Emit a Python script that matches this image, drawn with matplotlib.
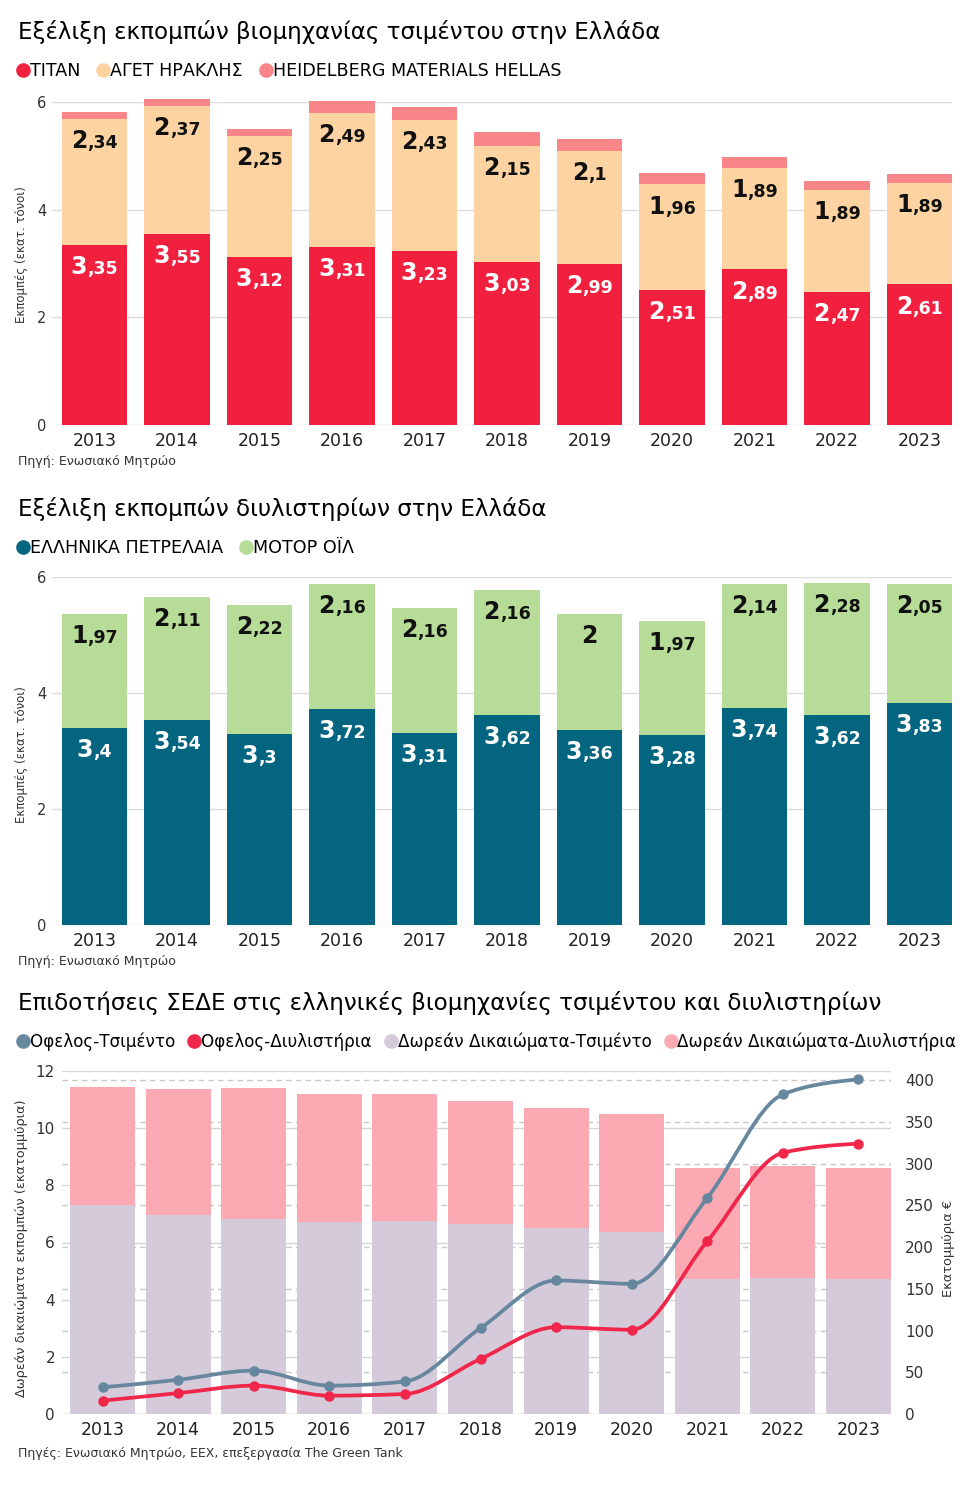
import numpy as np
import matplotlib
matplotlib.use("Agg")
import matplotlib.pyplot as plt
from matplotlib.path import Path
from matplotlib.patches import PathPatch
from matplotlib.lines import Line2D

plt.rcParams["font.family"] = ["DejaVu Sans"]

# --- data ---
years = [str(y) for y in range(2013, 2024)]

titan = [3.35, 3.55, 3.12, 3.31, 3.23, 3.03, 2.99, 2.51, 2.89, 2.47, 2.61]
aget = [2.34, 2.37, 2.25, 2.49, 2.43, 2.15, 2.1, 1.96, 1.89, 1.89, 1.89]
heidelberg = [0.12, 0.14, 0.13, 0.22, 0.24, 0.27, 0.22, 0.22, 0.19, 0.17, 0.17]

elpe = [3.4, 3.54, 3.3, 3.72, 3.31, 3.62, 3.36, 3.28, 3.74, 3.62, 3.83]
motor_oil = [1.97, 2.11, 2.22, 2.16, 2.16, 2.16, 2, 1.97, 2.14, 2.28, 2.05]

free_cement = [7.31, 6.96, 6.81, 6.70, 6.76, 6.64, 6.51, 6.37, 4.74, 4.77, 4.74]
free_refinery = [4.14, 4.42, 4.61, 4.49, 4.43, 4.32, 4.21, 4.12, 3.87, 3.92, 3.87]
benefit_cement = [32, 41, 52, 34, 39, 103, 160, 156, 259, 383, 401]
benefit_refinery = [16, 25, 34, 22, 24, 66, 104, 101, 207, 313, 324]

# colours
c_titan, c_aget, c_heid = "#f2203f", "#fdd4a1", "#f88587"
c_elpe, c_motor = "#03657f", "#b7dc97"
c_lblue, c_lred, c_lav, c_pink = "#66879e", "#f0264a", "#d5cad9", "#fbaab3"

W, H = 980, 1485
fig = plt.figure(figsize=(W / 100, H / 100), dpi=100)


def box(l, t, r, b):
    return [l / W, 1 - b / H, (r - l) / W, (b - t) / H]


def ftext(x, y, s, **kw):
    return fig.text(x / W, 1 - y / H, s, **kw)


def value_label(ax, x, y, v, color):
    txt = f"{v:g}".replace(".", ",")
    if "," in txt:
        ip, dp = txt.split(",")
        dp = "," + dp
    else:
        ip, dp = txt, ""
    big, small = 17, 12.5
    wi = len(ip) * 0.696 * big
    wd = (0.38 + 0.696 * (len(dp) - 1)) * small if dp else 0
    x0 = -(wi + wd) / 2 + wi
    ax.annotate(ip, (x, y), xytext=(x0, -21), textcoords="offset points",
                ha="right", va="baseline", fontsize=big, fontweight="bold", color=color)
    if dp:
        ax.annotate(dp, (x, y), xytext=(x0, -21), textcoords="offset points",
                    ha="left", va="baseline", fontsize=small, fontweight="bold", color=color)


def style_bar_axes(ax):
    ax.set_ylim(0, 6)
    ax.set_yticks([0, 2, 4, 6])
    ax.set_xlim(-0.515, 10.394)
    ax.set_xticks(range(len(years)))
    ax.set_xticklabels(years)
    ax.grid(axis="y", color="#dcdcdc", lw=1)
    ax.set_axisbelow(True)
    for s in ax.spines.values():
        s.set_visible(False)
    ax.tick_params(axis="both", length=0)
    ax.tick_params(axis="y", labelsize=10.5, pad=4, labelcolor="#333333")
    ax.tick_params(axis="x", labelsize=12.5, pad=5, labelcolor="#222222")


def legend(items, x, y, fs, cs):
    handles = [Line2D([], [], marker="o", ls="", color=c, markersize=9.5) for c, _ in items]
    fig.legend(handles, [t for _, t in items], loc="center left",
               bbox_to_anchor=(x / W, 1 - y / H), ncol=len(items), frameon=False,
               handlelength=0.6, handletextpad=0.1, columnspacing=cs,
               borderaxespad=0, borderpad=0, fontsize=fs)


x = np.arange(len(years))

# --- chart 1: cement ---
ftext(18, 32, "Εξέλιξη εκπομπών βιομηχανίας τσιμέντου στην Ελλάδα", fontsize=16.6, va="center")
legend([(c_titan, "TITAN"), (c_aget, "ΑΓΕΤ ΗΡΑΚΛΗΣ"), (c_heid, "HEIDELBERG MATERIALS HELLAS")],
       18, 71, 12.6, 1.0)
ax1 = fig.add_axes(box(52, 102, 952, 425))
style_bar_axes(ax1)
b1 = np.array(titan)
b2 = b1 + np.array(aget)
ax1.bar(x, titan, width=0.79, color=c_titan, clip_on=False)
ax1.bar(x, aget, width=0.79, bottom=b1, color=c_aget, clip_on=False)
ax1.bar(x, heidelberg, width=0.79, bottom=b2, color=c_heid, clip_on=False)
for i in range(len(years)):
    value_label(ax1, x[i], b1[i], titan[i], "white")
    value_label(ax1, x[i], b2[i], aget[i], "#111111")
ftext(22, 255, "Εκπομπές (εκατ. τόνοι)", rotation=90, fontsize=8.5, va="center", ha="center", color="#333333")
ftext(18, 461, "Πηγή: Ενωσιακό Μητρώο", fontsize=9, va="center", color="#333333")

# --- chart 2: refineries ---
ftext(18, 509, "Εξέλιξη εκπομπών διυλιστηρίων στην Ελλάδα", fontsize=16.6, va="center")
legend([(c_elpe, "ΕΛΛΗΝΙΚΑ ΠΕΤΡΕΛΑΙΑ"), (c_motor, "ΜΟΤΟΡ ΟΪΛ")], 18, 548, 12.6, 1.0)
ax2 = fig.add_axes(box(52, 577, 952, 925))
style_bar_axes(ax2)
e1 = np.array(elpe)
ax2.bar(x, elpe, width=0.79, color=c_elpe, clip_on=False)
ax2.bar(x, motor_oil, width=0.79, bottom=e1, color=c_motor, clip_on=False)
for i in range(len(years)):
    value_label(ax2, x[i], e1[i], elpe[i], "white")
    value_label(ax2, x[i], e1[i] + motor_oil[i], motor_oil[i], "#111111")
ftext(22, 755, "Εκπομπές (εκατ. τόνοι)", rotation=90, fontsize=8.5, va="center", ha="center", color="#333333")
ftext(18, 962, "Πηγή: Ενωσιακό Μητρώο", fontsize=9, va="center", color="#333333")

# --- chart 3: subsidies ---
ftext(18, 1003, "Επιδοτήσεις ΣΕΔΕ στις ελληνικές βιομηχανίες τσιμέντου και διυλιστηρίων",
      fontsize=16.6, va="center")
legend([(c_lblue, "Οφελος-Τσιμέντο"), (c_lred, "Οφελος-Διυλιστήρια"),
        (c_lav, "Δωρεάν Δικαιώματα-Τσιμέντο"), (c_pink, "Δωρεάν Δικαιώματα-Διυλιστήρια")],
       18, 1042, 12.1, 0.85)

ax3 = fig.add_axes(box(62, 1071, 891, 1414))
ax3.set_ylim(0, 12)
ax3.set_yticks(range(0, 13, 2))
ax3.set_xlim(-0.536, 10.43)
ax3.set_xticks(x)
ax3.set_xticklabels(years)
ax3.grid(axis="y", color="#d6d6d6", lw=1)
ax3.set_axisbelow(True)
for s in ax3.spines.values():
    s.set_visible(False)
ax3.tick_params(axis="both", length=0)
ax3.tick_params(axis="y", labelsize=11, pad=5, labelcolor="#333333")
ax3.tick_params(axis="x", labelsize=12.5, pad=5, labelcolor="#222222")
ax3.bar(x, free_cement, width=0.86, color=c_lav)
ax3.bar(x, free_refinery, width=0.86, bottom=free_cement, color=c_pink)
ax3.patch.set_visible(False)

# right-hand scale sits behind the bars so its dashed grid only shows in the gaps
ax_back = ax3.twinx()
ax_back.set_zorder(ax3.get_zorder() - 1)
ax_back.set_ylim(0, 411)
ax_back.set_yticks(range(0, 401, 50))
ax_back.grid(axis="y", color="#c8c8c8", lw=1, ls=(0, (4, 3)))
for s in ax_back.spines.values():
    s.set_visible(False)
ax_back.tick_params(axis="y", length=0, labelsize=11, pad=10, labelcolor="#333333")

ax_l = ax3.twinx()
ax_l.set_ylim(0, 411)
ax_l.axis("off")


def smooth(xs, ys):
    # monotone cubic through the points, drawn as bezier segments
    xs = np.asarray(xs, float)
    ys = np.asarray(ys, float)
    h = np.diff(xs)
    d = np.diff(ys) / h
    m = np.zeros(len(xs))
    for i in range(1, len(xs) - 1):
        s0, s1 = d[i - 1], d[i]
        p = (s0 * h[i] + s1 * h[i - 1]) / (h[i - 1] + h[i])
        m[i] = (np.sign(s0) + np.sign(s1)) * min(abs(s0), abs(s1), 0.5 * abs(p))
    m[0] = (3 * d[0] - m[1]) / 2
    m[-1] = (3 * d[-1] - m[-2]) / 2
    verts = [(xs[0], ys[0])]
    codes = [Path.MOVETO]
    for i in range(len(h)):
        dx = h[i] / 3
        verts += [(xs[i] + dx, ys[i] + m[i] * dx), (xs[i + 1] - dx, ys[i + 1] - m[i + 1] * dx),
                  (xs[i + 1], ys[i + 1])]
        codes += [Path.CURVE4] * 3
    return Path(verts, codes)


for vals, c in [(benefit_cement, c_lblue), (benefit_refinery, c_lred)]:
    ax_l.add_patch(PathPatch(smooth(x, vals), fill=False, edgecolor=c, lw=2.7, capstyle="round"))
    ax_l.plot(x, vals, "o", color=c, ms=6.5)

ftext(22, 1248, "Δωρεάν δικαιώματα εκπομπών (εκατομμύρια)", rotation=90, fontsize=9.3,
      va="center", ha="center", color="#333333")
ftext(948, 1248, "Εκατομμύρια €", rotation=90, fontsize=9.3, va="center", ha="center", color="#333333")
ftext(18, 1453, "Πηγές: Ενωσιακό Μητρώο, EEX, επεξεργασία The Green Tank", fontsize=9,
      va="center", color="#333333")

fig.savefig("out.png", dpi=100)
